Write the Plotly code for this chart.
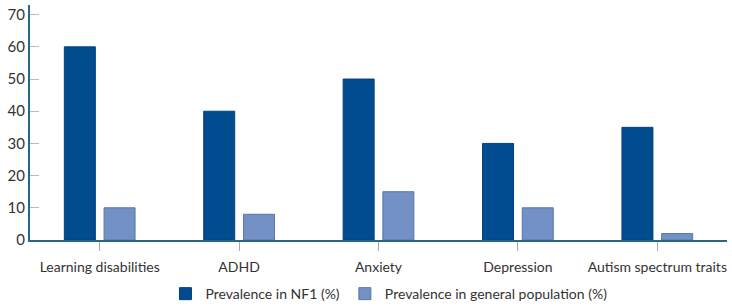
import plotly.graph_objects as go

categories = ["Learning disabilities", "ADHD", "Anxiety", "Depression", "Autism spectrum traits"]
nf1_values = [60, 40, 50, 30, 35]
general_values = [10, 8, 15, 10, 2]
y_ticks = [0, 10, 20, 30, 40, 50, 60, 70]

fig = go.Figure()
fig.add_trace(go.Bar(name="Prevalence in NF1 (%)", x=categories, y=nf1_values,
                     marker=dict(color="#004c8f", line=dict(color="#004080", width=1))))
fig.add_trace(go.Bar(name="Prevalence in general population (%)", x=categories, y=general_values,
                     marker=dict(color="#7391c5", line=dict(color="#5877ab", width=1))))

fig.update_layout(
    width=732, height=308,
    margin=dict(l=30, r=5, t=5, b=68, autoexpand=False),
    paper_bgcolor="white", plot_bgcolor="white",
    font=dict(family="Lato", size=14, color="#333333"),
    barmode="group", bargap=0.43, bargroupgap=0.22,
    showlegend=True,
    legend=dict(orientation="h", x=0.515, xanchor="center", y=-0.23, yanchor="middle",
                font=dict(size=14, color="#333333"),
                itemwidth=30, tracegroupgap=0),
)
fig.update_xaxes(showline=True, linecolor="#2a668c", linewidth=2, automargin=False,
                 ticks="outside", ticklen=9, tickcolor="#aaaaaa", tickwidth=1,
                 ticklabelstandoff=4,
                 showgrid=False, zeroline=False, tickfont=dict(size=14))
fig.update_yaxes(range=[0, 73], tickvals=y_ticks, showline=True, linecolor="#2a668c", linewidth=2,
                 automargin=False,
                 ticks="inside", ticklen=9, tickcolor="#bbbbbb", tickwidth=1,
                 showgrid=False, zeroline=False, tickfont=dict(size=15))

fig.write_html("out.html", config={"displayModeBar": False},
               post_script="document.body.style.margin='0';")
